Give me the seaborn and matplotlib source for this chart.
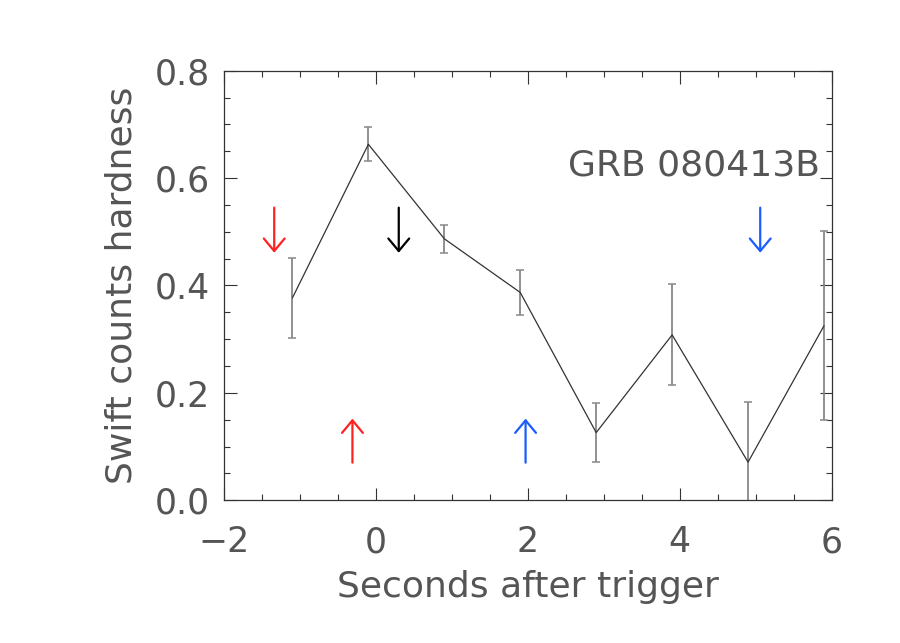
import matplotlib
matplotlib.use("Agg")
import matplotlib.pyplot as plt
import seaborn as sns
import pandas as pd
from matplotlib.ticker import MultipleLocator

# hardness ratio vs time
t = [-1.1, -0.1, 0.9, 1.9, 2.9, 3.9, 4.9, 5.9]
hardness = [0.377, 0.663, 0.487, 0.387, 0.126, 0.308, 0.071, 0.325]
err = [0.074, 0.032, 0.026, 0.042, 0.055, 0.094, 0.112, 0.176]

# marker arrows (x position, direction, colour)
arrow_x = [-1.34, 0.30, -0.31, 1.97, 5.06]
arrow_dir = ["down", "down", "up", "up", "down"]
arrow_col = ["#ff2020", "black", "#ff2020", "#1a5cff", "#1a5cff"]

df = pd.DataFrame({"t": t, "hardness": hardness, "err": err})

sns.set_style("ticks")
plt.rcParams["font.family"] = ["DejaVu Sans"]
text_col = "#555555"

fig = plt.figure(figsize=(9, 6.43), dpi=100)
ax = fig.add_axes([0.249, 0.222, 0.675, 0.668])

ax.errorbar(df["t"], df["hardness"], yerr=df["err"], fmt="none",
            ecolor="#888888", elinewidth=1.3, capsize=3, capthick=1.1, zorder=2)
sns.lineplot(data=df, x="t", y="hardness", ax=ax, color="#333333",
             linewidth=0.9, estimator=None, sort=False, zorder=3)

for x, d, c in zip(arrow_x, arrow_dir, arrow_col):
    if d == "down":
        tail, tip = 0.545, 0.461
    else:
        tail, tip = 0.070, 0.152
    ax.annotate("", xy=(x, tip), xytext=(x, tail),
                arrowprops=dict(arrowstyle="->,head_length=0.9,head_width=0.75",
                                color=c, lw=1.6, shrinkA=0, shrinkB=0))

ax.text(5.85, 0.605, "GRB 080413B", ha="right", va="baseline",
        fontsize=26, color=text_col)

ax.set_xlim(-2, 6)
ax.set_ylim(0, 0.8)
ax.xaxis.set_major_locator(MultipleLocator(2))
ax.xaxis.set_minor_locator(MultipleLocator(0.5))
ax.yaxis.set_major_locator(MultipleLocator(0.2))
ax.yaxis.set_minor_locator(MultipleLocator(0.05))
ax.xaxis.set_major_formatter(plt.FuncFormatter(lambda v, p: f"{v:.0f}".replace("-", "\u2212")))
ax.yaxis.set_major_formatter(plt.FuncFormatter(lambda v, p: f"{v:.1f}"))

ax.tick_params(which="both", direction="in", top=True, right=True,
               colors="#333333", labelcolor=text_col, labelsize=25, width=0.8)
ax.tick_params(which="major", length=9)
ax.tick_params(which="minor", length=4.5)
ax.tick_params(axis="x", which="major", pad=18)
ax.tick_params(axis="y", which="major", pad=10)
for s in ax.spines.values():
    s.set_visible(True)
    s.set_color("#333333")
    s.set_linewidth(0.9)

ax.set_xlabel("Seconds after trigger", fontsize=26, color=text_col, labelpad=8)
ax.set_ylabel("Swift counts hardness", fontsize=26, color=text_col, labelpad=12)

fig.savefig("out.png", dpi=100)
